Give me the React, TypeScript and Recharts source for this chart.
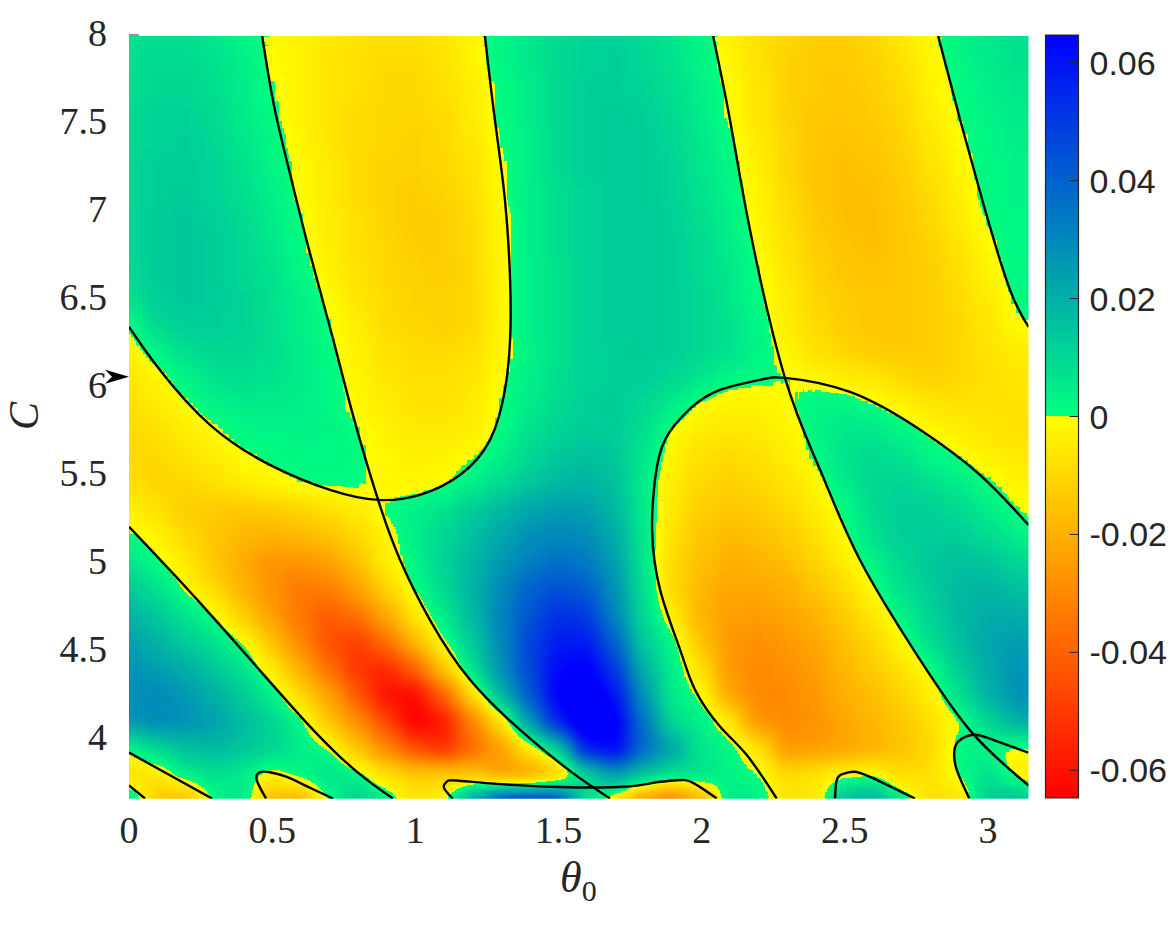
import { ComposedChart, Scatter, Line, XAxis, YAxis, ReferenceArea, ReferenceDot } from "recharts";

// theta_0 columns and C rows of the sampled field
const thetaCols = [0, 0.1, 0.2, 0.3, 0.4, 0.5, 0.6, 0.7, 0.8, 0.9, 1, 1.1, 1.2, 1.3, 1.4, 1.5, 1.6, 1.7, 1.8, 1.9, 2, 2.1, 2.2, 2.3, 2.4, 2.5, 2.6, 2.7, 2.8, 2.9, 3, 3.1, 3.2];
const cRows = [8, 7.85, 7.7, 7.55, 7.4, 7.25, 7.1, 6.95, 6.8, 6.65, 6.5, 6.35, 6.2, 6.05, 5.9, 5.75, 5.6, 5.45, 5.3, 5.15, 5, 4.85, 4.7, 4.55, 4.4, 4.25, 4.1, 3.95, 3.8, 3.65];

// values x 1000, one line per C row
const field = [
  [7, 8, 8, 6, 3, -1, -3, -5, -7, -8, -8, -6, -2, 2, 6, 9, 11, 11, 9, 6, 2, -3, -7, -10, -12, -12, -10, -6, -1, 3, 6, 7, 7],
  [8, 9, 9, 7, 4, -1, -3, -6, -8, -9, -9, -7, -2, 2, 6, 9, 11, 12, 10, 7, 3, -2, -7, -11, -13, -13, -11, -7, -2, 2, 5, 7, 7],
  [8, 10, 10, 8, 5, 0, -3, -6, -8, -10, -10, -8, -4, 1, 5, 9, 12, 12, 11, 8, 4, -1, -6, -11, -13, -14, -12, -9, -3, 1, 4, 6, 7],
  [9, 11, 11, 9, 5, 1, -3, -6, -9, -10, -10, -9, -5, 1, 5, 9, 12, 13, 12, 9, 5, -1, -6, -11, -14, -14, -13, -10, -4, 0, 3, 5, 6],
  [9, 11, 12, 10, 6, 2, -2, -6, -9, -10, -11, -10, -6, 0, 4, 9, 12, 13, 13, 10, 6, 1, -5, -10, -14, -15, -14, -11, -6, -1, 2, 4, 5],
  [10, 12, 12, 11, 7, 3, -1, -5, -9, -11, -11, -10, -7, -1, 4, 9, 12, 13, 13, 11, 6, 2, -4, -10, -14, -16, -15, -12, -7, -2, 2, 3, 4],
  [10, 12, 13, 11, 8, 4, -1, -5, -9, -11, -12, -11, -8, -1, 4, 8, 11, 13, 13, 11, 7, 3, -3, -9, -14, -16, -16, -13, -9, -4, 2, 3, 4],
  [10, 13, 14, 12, 9, 5, 0, -4, -8, -11, -12, -12, -9, -2, 4, 8, 11, 13, 13, 12, 8, 4, -2, -8, -13, -16, -16, -14, -10, -5, 0, 2, 3],
  [10, 13, 14, 13, 10, 6, 1, -4, -8, -10, -12, -12, -9, -2, 4, 8, 11, 13, 13, 12, 9, 5, -1, -7, -12, -15, -16, -14, -11, -7, -1, 2, 3],
  [9, 13, 14, 13, 10, 7, 2, -3, -7, -10, -11, -12, -10, -2, 4, 7, 11, 13, 13, 12, 9, 6, 0, -6, -11, -14, -15, -14, -12, -8, -3, 2, 4],
  [7, 12, 14, 13, 11, 7, 4, -1, -6, -9, -11, -11, -10, -2, 4, 7, 11, 13, 13, 12, 10, 6, 1, -5, -10, -13, -14, -14, -12, -9, -5, 1, 3],
  [0, 9, 12, 12, 11, 8, 4, 0.5, -4, -9, -10, -11, -10, -2, 4, 7, 11, 13, 13, 12, 10, 7, 2, -4, -9, -12, -14, -14, -12, -10, -6, -1, 1],
  [-3, 3, 8, 10, 10, 8, 5, 1, -3, -7, -9, -9, -8, -2, 3, 7, 11, 12, 13, 12, 10, 7, 3, -2, -7, -10, -12, -13, -12, -10, -7, -5, -3],
  [-6, -2, 3, 7, 8, 7, 5, 2, -2, -6, -8, -8, -6, -1, 4, 8, 11, 12, 12, 10, 6, 2, 1, 0, -2, -4, -6, -9, -11, -10, -8, -6, -5],
  [-8, -5, -1, 3, 5, 5, 4, 2, -1.5, -4, -7, -7, -5, 0, 5, 9, 12, 13, 10, 5, -1, -3, -3, -1, 3, 3, 0, -3, -6, -7, -7, -7, -6],
  [-9, -8, -4, -1, 2, 3, 3, 3, 0, -3, -5, -5, -4, 1, 7, 11, 13, 13, 8, -1, -5, -6, -5, -3, 2, 6, 6, 3, -1, -4, -6, -7, -7],
  [-9, -10, -7, -4, -1, 1, 2, 2, 1, -2, -3, -3, -0.5, 4, 10, 14, 16, 14, 6, -3, -8, -9, -8, -4, 1, 7, 9, 7, 3, 0, -3, -5, -6],
  [-7, -11, -10, -8, -5, -2, 0, 1, 1, -2, -2, -1, 4, 9, 14, 18, 19, 16, 5, -5, -10, -11, -10, -7, -2, 5, 10, 11, 8, 5, 1, -2, -4],
  [-3, -7, -12, -13, -14, -13, -11, -8, -5, 1, 4, 7, 13, 18, 23, 25, 24, 18, 5, -6, -12, -14, -13, -10, -5, 1, 9, 12, 12, 9, 5, 0, -2],
  [1, -2, -9, -14, -18, -19, -18, -15, -10, -3, 4, 10, 16, 22, 28, 31, 29, 21, 6, -8, -14, -17, -16, -13, -8, -1, 7, 12, 13, 13, 9, 5, 0],
  [7, 1, -5, -14, -21, -27, -28, -24, -16, -4, 3, 11, 18, 26, 33, 37, 34, 24, 6, -9, -16, -20, -19, -16, -11, -5, 3, 10, 14, 16, 15, 11, 8],
  [14, 8, -1, -9, -19, -28, -34, -33, -24, -11, 0, 9, 19, 29, 40, 45, 41, 28, 7, -10, -18, -22, -22, -20, -15, -9, -1, 7, 13, 17, 19, 16, 13],
  [19, 14, 7, 0, -12, -24, -35, -42, -36, -22, -6, 5, 17, 31, 43, 53, 50, 31, 9, -4, -19, -24, -25, -23, -19, -13, -6, 3, 11, 17, 21, 21, 19],
  [24, 19, 13, 7, 0, -15, -30, -44, -49, -37, -18, -1, 13, 30, 47, 58, 58, 40, 13, 2, -15, -26, -28, -26, -22, -16, -10, -2, 8, 16, 22, 25, 24],
  [28, 25, 21, 14, 7, -5, -20, -36, -52, -55, -40, -15, 8, 27, 46, 63, 67, 50, 20, 4, -7, -26, -30, -28, -24, -18, -13, -7, 0, 12, 21, 27, 28],
  [29, 30, 26, 20, 13, 4, -9, -23, -42, -61, -63, -40, -10, 18, 42, 66, 74, 60, 27, 5, -1, -22, -30, -29, -26, -20, -16, -11, -4, 7, 19, 27, 29],
  [26, 30, 28, 24, 17, 11, 2, -14, -28, -46, -66, -59, -32, -8, 25, 56, 75, 68, 35, 9, 4, -5, -27, -29, -27, -22, -18, -14, -8, -1, 10, 20, 24],
  [2, 10, 16, 18, 15, 11, 5, 0, -15, -30, -45, -53, -38, -24, -5, 12, 58, 64, 38, 23, 6, 2, -6, -26, -25, -23, -19, -15, -10, 2, 2, -2, 0],
  [-9, -6, 4, 8, 5, -3, 3, 7, 3, -7, -12, -12, -14, -25, -25, -15, 10, 25, 15, 8, 7, 3, 0.5, -9, -6, -2, -1, -9, -7, 0, 8, -2, -7],
  [10, -14, -18, 1, 6, -18, -20, 0, 12, 6, -6, -2, 25, 50, 55, 50, 8, -8, -28, -35, -20, 6, 4, -6, -6, 18, 22, 6, -8, -8, 12, 18, 6],
];

// zero contours as [theta_0, C]
const contourA = [[0.465, 8], [0.506, 7.608], [0.559, 7.239], [0.629, 6.785], [0.709, 6.302], [0.782, 5.848], [0.87, 5.365], [0.947, 5.024], [1.051, 4.684], [1.191, 4.343], [1.366, 4.059], [1.54, 3.826], [1.68, 3.669]];
const contourB = [[1.243, 8], [1.278, 7.523], [1.313, 7.069], [1.331, 6.614], [1.331, 6.274], [1.313, 5.99], [1.261, 5.706], [1.156, 5.507], [1.016, 5.394], [0.87, 5.365], [0.702, 5.422], [0.492, 5.564], [0.283, 5.791], [0.108, 6.103], [0, 6.348]];
const contourC = [[0, 5.212], [0.248, 4.78], [0.517, 4.286], [0.643, 4.059], [0.737, 3.906], [0.831, 3.775], [0.922, 3.669]];
const contourD = [[0, 3.93], [0.29, 3.669]];
const contourE = [[0, 3.743], [0.056, 3.669]];
const contourF = [[0.479, 3.669], [0.446, 3.775], [0.458, 3.819], [0.492, 3.818], [0.551, 3.792], [0.632, 3.73], [0.713, 3.669]];
const contourG = [[1.131, 3.669], [1.1, 3.73], [1.11, 3.765], [1.145, 3.771], [1.296, 3.751], [1.529, 3.733], [1.738, 3.737], [1.83, 3.758], [1.913, 3.773], [1.97, 3.758], [2.053, 3.669]];
const contourH = [[2.262, 3.669], [2.157, 3.917], [2.064, 4.078], [1.977, 4.286], [1.925, 4.513], [1.855, 4.854], [1.827, 5.195], [1.837, 5.479], [1.872, 5.706], [1.959, 5.882], [2.064, 5.99], [2.204, 6.047], [2.291, 6.058], [2.518, 5.978], [2.763, 5.763], [2.972, 5.507], [3.1416, 5.223]];
const contourI = [[2.04, 8], [2.099, 7.523], [2.169, 6.898], [2.291, 6.058], [2.414, 5.535], [2.553, 5.024], [2.763, 4.457], [2.948, 4.036], [3.1416, 3.743]];
const contourJ = [[2.826, 8], [2.903, 7.523], [2.99, 7.012], [3.077, 6.558], [3.1416, 6.348]];
const contourK = [[2.466, 3.669], [2.472, 3.775], [2.494, 3.809], [2.529, 3.821], [2.588, 3.792], [2.745, 3.669]];
const contourL = [[2.935, 3.669], [2.891, 3.832], [2.882, 3.928], [2.896, 3.992], [2.949, 4.031], [3.018, 4.002], [3.1416, 3.93]];
const contours = [contourA, contourB, contourC, contourD, contourE, contourF, contourG, contourH, contourI, contourJ, contourK, contourL];

const xTicks = [0, 0.5, 1, 1.5, 2, 2.5, 3];
const yTicks = [4, 4.5, 5, 5.5, 6, 6.5, 7, 7.5, 8];
const barTicks = [-0.06, -0.04, -0.02, 0, 0.02, 0.04, 0.06];
const barEnds = [-0.0647, 0.0647];
const markedC = 6.065;

const SERIF = "'Liberation Serif', serif";
const INK = "#262626";
const COLOR_LIMIT = 64.7;
const ENCODE_LIMIT = 80;

const cells = cRows.flatMap((c, i) => thetaCols.map((theta, j) => ({ theta, c, v: field[i][j] })));
const lines = contours.map((pts) => pts.map(([theta, c]) => ({ theta, c })));
const barData = barEnds.map((level, i) => ({ pos: i, level }));

// colormap: autumn below zero, flipped winter above
function colorAt(t: number) {
  if (t < 0) return [1, 1 + t, 0];
  const g = 1 - t;
  return [0, g, 1 - g / 2];
}

const tables = [[], [], []] as number[][];
for (let i = 0; i < 256; i++) {
  const v = ((i / 255) * 2 - 1) * ENCODE_LIMIT;
  const t = Math.max(-1, Math.min(1, v / COLOR_LIMIT));
  const rgb = colorAt(t);
  rgb.forEach((ch, k) => tables[k].push(+ch.toFixed(4)));
}

function HeatCell(props: any) {
  const gray = Math.round(((props.payload.v + ENCODE_LIMIT) / (2 * ENCODE_LIMIT)) * 255);
  return <rect x={props.cx - 15} y={props.cy - 14} width={30} height={28} fill={`rgb(${gray},${gray},${gray})`} />;
}

function XTick({ x, y, payload }: any) {
  return (
    <text x={x} y={843} textAnchor="middle" fontFamily={SERIF} fontSize={38} fill={INK}>
      {payload.value}
    </text>
  );
}

function YTick({ x, y, payload }: any) {
  return (
    <g>
      {payload.value === 8 && <line x1={129} x2={139} y1={y - 1} y2={y - 1} stroke={INK} strokeWidth={1} />}
      <text x={107} y={y + 10} textAnchor="end" fontFamily={SERIF} fontSize={38} fill={INK}>
        {payload.value}
      </text>
    </g>
  );
}

function BarTick({ x, y, payload }: any) {
  return (
    <g>
      <line x1={x - 20} x2={x - 11} y1={y} y2={y} stroke={INK} strokeWidth={1} />
      <text x={x} y={y + 12} fontFamily="'Liberation Sans', sans-serif" fontSize={34} fill={INK}>
        {payload.value}
      </text>
    </g>
  );
}

function Arrow({ cx, cy }: any) {
  return <polygon points={`${cx},${cy} ${cx - 24},${cy - 7} ${cx - 17},${cy} ${cx - 24},${cy + 7}`} fill="#000" />;
}

export default function App() {
  return (
    <div style={{ position: "absolute", left: 0, top: 0, width: 1172, height: 938, background: "#fff" }}>
      <style>{`.heat { filter: url(#fieldMap); }`}</style>
      <div style={{ position: "absolute", left: 0, top: 0 }}>
        <ComposedChart width={1172} height={938} margin={{ top: 36, right: 143.5, bottom: 89.3, left: 69 }}>
          <defs>
            <filter id="fieldMap" filterUnits="userSpaceOnUse" x={129} y={36} width={899.5} height={762.7} colorInterpolationFilters="sRGB">
              <feGaussianBlur stdDeviation={10} />
              <feComponentTransfer>
                <feFuncR type="table" tableValues={tables[0].join(" ")} />
                <feFuncG type="table" tableValues={tables[1].join(" ")} />
                <feFuncB type="table" tableValues={tables[2].join(" ")} />
                <feFuncA type="linear" slope={255} intercept={0} />
              </feComponentTransfer>
            </filter>
          </defs>
          <XAxis
            type="number"
            dataKey="theta"
            domain={[0, 3.1416]}
            allowDataOverflow
            ticks={xTicks}
            height={50}
            axisLine={false}
            tickLine={false}
            tick={<XTick />}
          />
          <YAxis
            type="number"
            dataKey="c"
            domain={[3.668, 8]}
            allowDataOverflow
            ticks={yTicks}
            width={60}
            axisLine={false}
            tickLine={false}
            tick={<YTick />}
          />
          <Scatter className="heat" data={cells} shape={<HeatCell />} isAnimationActive={false} zIndex={10} />
          {lines.map((pts, i) => (
            <Line key={i} data={pts} dataKey="c" type="natural" dot={false} activeDot={false} stroke="#000" strokeWidth={2.4} isAnimationActive={false} zIndex={20} />
          ))}
          <ReferenceDot x={0} y={markedC} ifOverflow="visible" shape={<Arrow />} zIndex={30} />
          <text x={560} y={892} fontFamily={SERIF} fontStyle="italic" fontSize={44} fill={INK}>
            θ
            <tspan fontStyle="normal" fontSize={30} dy={9}>0</tspan>
          </text>
          <text transform="translate(38,416) rotate(-90)" textAnchor="middle" fontFamily={SERIF} fontStyle="italic" fontSize={42} fill={INK}>
            C
          </text>
        </ComposedChart>
      </div>
      <div style={{ position: "absolute", left: 1000, top: 0 }}>
        <ComposedChart width={172} height={938} data={barData} margin={{ top: 35, right: 33, bottom: 140, left: 45.5 }}>
          <defs>
            <linearGradient id="barGrad" x1="0" y1="0" x2="0" y2="1">
              <stop offset="0%" stopColor="rgb(0,0,255)" />
              <stop offset="50%" stopColor="rgb(0,255,128)" />
              <stop offset="50%" stopColor="rgb(255,255,0)" />
              <stop offset="100%" stopColor="rgb(255,0,0)" />
            </linearGradient>
          </defs>
          <XAxis type="number" dataKey="pos" domain={[0, 1]} height={50} hide />
          <YAxis
            type="number"
            dataKey="level"
            orientation="right"
            domain={[-0.0647, 0.0647]}
            ticks={barTicks}
            width={60.5}
            axisLine={false}
            tickLine={false}
            tickSize={0}
            tickMargin={11}
            tick={<BarTick />}
          />
          <Scatter data={barData} shape={() => null} isAnimationActive={false} />
          <ReferenceArea x1={0} x2={1} y1={barEnds[0]} y2={barEnds[1]} fill="url(#barGrad)" fillOpacity={1} stroke={INK} strokeWidth={1.2} ifOverflow="visible" />
        </ComposedChart>
      </div>
    </div>
  );
}
